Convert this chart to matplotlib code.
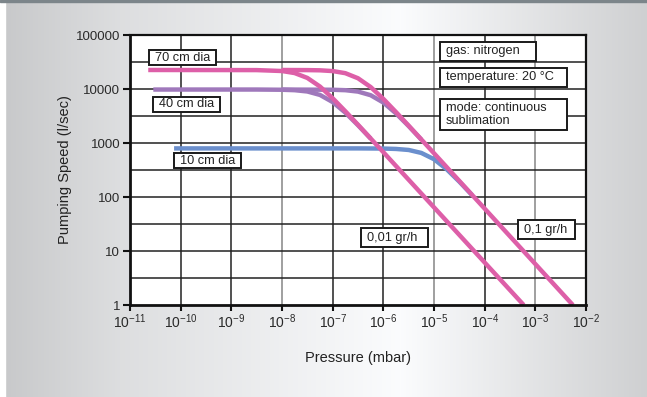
import numpy as np
import matplotlib
matplotlib.use("Agg")
import matplotlib.pyplot as plt
from matplotlib.patches import Rectangle

plt.rcParams['font.family'] = ['Liberation Sans', 'DejaVu Sans']
plt.rcParams['mathtext.fontset'] = 'custom'
plt.rcParams['mathtext.rm'] = 'Liberation Sans'
plt.rcParams['mathtext.default'] = 'regular'

# curves: log10(pressure / mbar) and log10(speed / l/sec)
p70_001 = [-10.64, -8.5, -8.0, -7.75, -7.5, -7.25, -7.0, -6.75, -6.5, -6.0, -3.23]
s70_001 = [4.352, 4.350, 4.333, 4.295, 4.205, 4.045, 3.829, 3.588, 3.338, 2.83, 0.0]

p70_01 = [-8.0, -7.5, -7.25, -7.0, -6.75, -6.5, -6.25, -6.0, -5.75, -5.5, -5.0, -2.26]
s70_01 = [4.352, 4.350, 4.346, 4.332, 4.293, 4.199, 4.036, 3.817, 3.573, 3.321, 2.81, 0.0]

p40_001 = [-10.54, -8.5, -8.0, -7.75, -7.5, -7.25, -7.0, -6.75, -6.5, -6.25]
s40_001 = [3.99, 3.99, 3.986, 3.978, 3.954, 3.89, 3.758, 3.562, 3.329, 3.082]

p40_01 = [-8.0, -7.0, -6.75, -6.5, -6.25, -6.0, -5.75, -5.5, -5.25]
s40_01 = [3.99, 3.986, 3.978, 3.952, 3.885, 3.749, 3.548, 3.313, 3.063]

p10_01 = [-10.13, -6.5, -6.0, -5.75, -5.5, -5.25, -5.0, -4.75, -4.5, -4.25]
s10_01 = [2.90, 2.90, 2.897, 2.89, 2.871, 2.816, 2.70, 2.514, 2.284, 2.036]

x_decades = list(range(-11, -1))
y_decades = [0, 1, 2, 3, 4, 5]
y_labels = ['1', '10', '100', '1000', '10000', '100000']

pink = '#dd5fa8'
purple = '#9f78bb'
blue = '#6b8fcd'

fig = plt.figure(figsize=(6.47, 3.97), dpi=100)

# background gradient
bg = fig.add_axes([0, 0, 1, 1], zorder=0)
cols = np.arange(647)
g = np.interp(cols, [0, 5, 120, 400, 560, 646], [200, 200, 221, 251, 222, 207]) / 255.0
img = np.dstack([g, g + 0.004, g + 0.01])
img = np.clip(np.repeat(img, 2, axis=0), 0, 1)
bg.imshow(img, extent=[0, 1, 0, 1], aspect='auto')
bg.add_patch(Rectangle((0, 0), 5 / 647, 1, color='white', transform=bg.transAxes))
bg.add_patch(Rectangle((0, 1 - 2 / 397), 1, 2 / 397, color='#7c858a', transform=bg.transAxes))
bg.set_xlim(0, 1)
bg.set_ylim(0, 1)
bg.axis('off')

ax = fig.add_axes([130 / 647, 92 / 397, 456 / 647, 270 / 397], zorder=1)
ax.set_facecolor('white')
ax.set_xscale('log')
ax.set_yscale('log')
ax.set_xlim(1e-11, 1e-2)
ax.set_ylim(1, 1e5)

# grid
for d in x_decades:
    c = '#858585' if d in (-8, -5, -3) else '#222222'
    ax.axvline(10.0 ** d, color=c, lw=1.1, zorder=1)
for d in range(0, 5):
    ax.axhline(10.0 ** (d + 0.5), color='#222222', lw=1.1, zorder=1)
    if d > 0:
        ax.axhline(10.0 ** d, color='#222222', lw=1.1, zorder=1)

def draw(px, sy, col):
    ax.plot(10.0 ** np.array(px), 10.0 ** np.array(sy), color=col, lw=3.2,
            solid_capstyle='butt', zorder=3)

draw(p10_01, s10_01, blue)
draw(p40_001, s40_001, purple)
draw(p40_01, s40_01, purple)
draw(p70_01, s70_01, pink)
draw(p70_001, s70_001, pink)

ax.set_xticks([10.0 ** d for d in x_decades])
ax.set_xticklabels(['$10^{%d}$' % d for d in x_decades])
ax.set_yticks([10.0 ** d for d in y_decades])
ax.set_yticklabels(y_labels)
ax.minorticks_off()
ax.tick_params(direction='out', length=5, width=1.5, labelsize=9.5,
               colors='#111111', labelcolor='#2a2a2a', pad=2)
ax.tick_params(axis='x', length=4, pad=1, labelsize=10)

for s in ['left', 'bottom']:
    ax.spines[s].set_linewidth(2)
for s in ['top', 'right']:
    ax.spines[s].set_linewidth(1.6)
for s in ax.spines.values():
    s.set_color('#111111')
    s.set_zorder(4)

ax.set_xlabel('Pressure (mbar)', fontsize=10.5, color='#222222', labelpad=15)
ax.set_ylabel('Pumping Speed (l/sec)', fontsize=10.5, color='#222222', labelpad=3)

# labels in boxes (axes fractions)
def box(x0, y0, w, h, txt, ty):
    ax.add_patch(Rectangle((x0, y0), w, h, transform=ax.transAxes, facecolor='white',
                           edgecolor='#1a1a1a', lw=1.4, zorder=5))
    ax.text(x0 + 0.013, ty, txt, transform=ax.transAxes, ha='left', va='center',
            fontsize=9.2, color='#222222', zorder=6, linespacing=1.1)

box(0.0417, 0.889, 0.147, 0.0556, '70 cm dia', 0.916)
box(0.0498, 0.716, 0.1476, 0.0556, '40 cm dia', 0.743)
box(0.0965, 0.506, 0.146, 0.0556, '10 cm dia', 0.533)
box(0.680, 0.905, 0.2105, 0.070, 'gas: nitrogen', 0.940)
box(0.680, 0.8085, 0.279, 0.070, 'temperature: 20 °C', 0.8435)
box(0.680, 0.648, 0.279, 0.116, 'mode: continuous\nsublimation', 0.706)
box(0.506, 0.2137, 0.147, 0.070, '0,01 gr/h', 0.249)
box(0.8515, 0.2444, 0.125, 0.070, '0,1 gr/h', 0.2795)

fig.savefig('out.png', dpi=100)
